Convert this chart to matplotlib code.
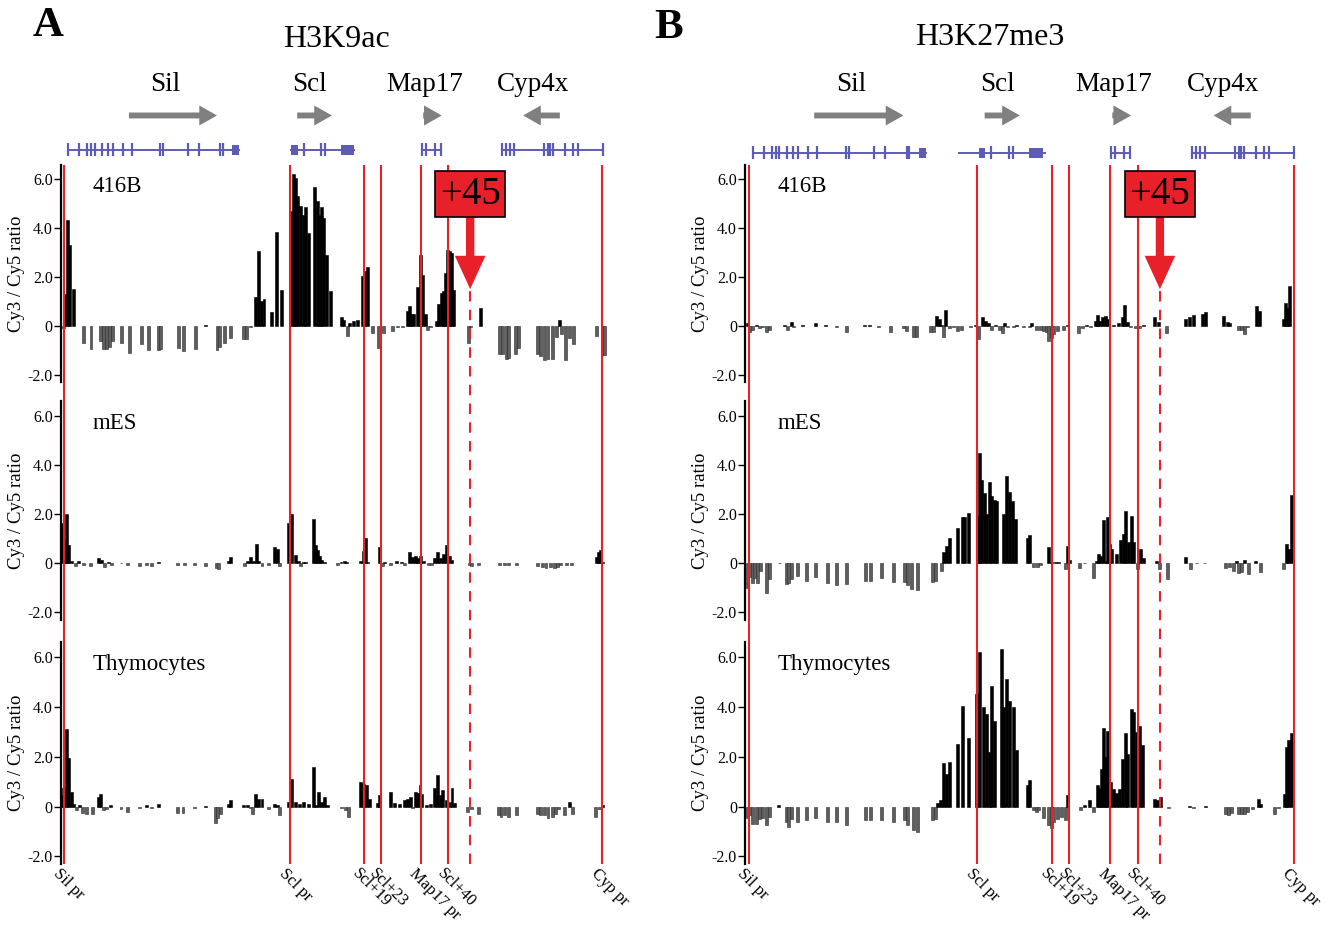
import matplotlib.pyplot as plt

plt.rcParams['font.family'] = ['Liberation Serif', 'DejaVu Serif']

# all positions are in kb relative to the Scl promoter
marker_names = ["Sil pr", "Scl pr", "Scl+19", "Scl+23", "Map17 pr", "Scl+40", "Cyp pr"]
marker_pos = [-57.2, 0.0, 18.6, 23.0, 33.1, 40.1, 79.0]
plus45_pos = 45.6

# gene models (exon ticks, thick exon blocks, gene span)
gene_names = ["Sil", "Scl", "Map17", "Cyp4x"]
gene_label_x = [-31.5, 5.0, 34.0, 61.5]
gene_arrow_from = [-40.8, 1.8, 33.7, 68.3]
gene_arrow_to = [-18.5, 10.6, 38.4, 59.0]
gene_spans = [(-56.2, -12.9), (0.3, 16.3), (33.4, 38.2), (53.7, 79.2)]
gene_exons = [-56.2, -53.4, -51.4, -50.3, -49.5, -47.6, -46.1, -44.9, -42.3, -40.0,
              -32.9, -32.2, -25.8, -23.0, -17.7, -17.0,
              3.5, 7.8, 8.9,
              33.4, 34.4, 36.6, 38.2,
              53.7, 54.7, 55.7, 56.8, 64.3, 65.3, 65.8, 66.5, 69.6, 71.6, 72.9, 79.2]
gene_blocks = [(-14.7, -12.9), (0.3, 2.0), (12.9, 16.3)]
scl_span_b = (-4.5, 16.8)

# Cy3/Cy5 ratios, (kb, value)
a_416b = [(-57.4, -0.1), (-57.0, 1.3), (-56.4, 4.35), (-55.8, 3.3), (-54.9, 1.5), (-52.2, -0.7),
          (-50.4, -0.95), (-48.0, -0.6), (-47.3, -0.95), (-46.5, -0.95), (-45.7, -0.85), (-45.0, -0.6),
          (-42.6, -0.7), (-40.7, -1.1), (-37.7, -0.75), (-35.8, -1.0), (-33.2, -1.0), (-32.7, -0.95),
          (-28.2, -0.9), (-27.0, -1.05), (-24.0, -0.95), (-21.3, 0.05), (-18.5, -1.0), (-17.8, -0.85),
          (-16.7, -0.7), (-15.0, -0.5), (-11.7, -0.55), (-11.0, -0.55), (-10.1, -0.05),
          (-8.7, 1.2), (-8.0, 3.05), (-7.2, 1.0), (-6.6, 1.1), (-4.8, 0.57), (-3.5, 3.85), (-2.1, 1.45),
          (0.2, 4.7), (0.85, 6.2), (1.4, 6.05), (2.0, 5.3), (2.6, 4.9), (3.3, 4.55), (4.0, 4.87),
          (4.6, 3.8), (6.3, 5.7), (7.0, 5.1), (7.4, 4.55), (7.9, 4.85), (8.4, 4.4), (9.3, 2.9),
          (10.3, 1.43), (13.0, 0.35), (13.6, 0.25), (14.5, -0.4), (15.0, 0.1), (16.0, 0.18),
          (17.0, 0.23), (18.3, 2.05), (18.9, 2.25), (19.5, 2.4), (20.8, -0.3), (22.5, -0.9),
          (23.7, -0.3), (26.0, -0.2), (27.3, -0.05), (28.4, -0.05), (29.7, 0.6), (30.2, 0.8),
          (30.7, 0.48), (31.2, 0.5), (32.3, 1.6), (33.0, 2.9), (33.6, 2.1), (34.2, 0.5), (34.8, -0.15),
          (35.6, -0.05), (37.1, 0.2), (37.7, 0.9), (38.3, 1.35), (38.8, 1.43), (39.3, 2.15),
          (39.8, 3.1), (40.3, 3.05), (40.8, 3.0), (41.3, 1.45), (45.2, -0.7), (45.8, -0.05), (48.2, 0.75),
          (53.1, -1.15), (53.9, -1.15), (54.7, -1.35), (55.4, -1.3), (57.1, -1.15), (57.9, -0.9),
          (62.7, -1.15), (63.4, -1.25), (64.3, -1.4), (65.3, -1.35), (66.4, -1.35), (67.5, -0.45),
          (68.1, 0.25), (68.8, -0.35), (69.8, -1.4), (70.7, -0.5), (71.7, -0.75), (77.6, -0.4),
          (79.0, -1.2), (79.5, -1.2)]

a_mes = [(-57.8, 1.65), (-57.2, 0.95), (-56.6, 2.0), (-56.0, 0.75), (-55.3, 0.1), (-54.2, -0.1),
         (-53.6, 0.08), (-52.4, -0.05), (-50.5, -0.1), (-48.4, 0.2), (-47.8, 0.12), (-47.1, -0.15),
         (-46.0, 0.05), (-45.3, -0.05), (-42.8, 0.03), (-41.2, -0.05), (-38.0, -0.1), (-36.4, -0.08),
         (-35.0, -0.1), (-33.2, 0.05), (-28.6, -0.05), (-26.8, -0.05), (-24.1, -0.05), (-21.5, -0.1),
         (-18.6, -0.2), (-18.0, -0.25), (-15.6, 0.1), (-15.1, 0.25), (-11.6, -0.1), (-10.8, 0.08),
         (-10.1, 0.25), (-9.2, 0.1), (-8.5, 0.8), (-7.9, 0.1), (-7.1, -0.1), (-5.5, -0.05),
         (-3.9, 0.65), (-3.3, 0.6), (-2.6, -0.1), (-0.4, 1.65), (0.3, 2.0), (1.4, 0.35), (2.2, 0.1),
         (2.7, -0.1), (3.3, 0.05), (3.8, 0.05), (5.9, 1.8), (6.5, 0.75), (7.0, 0.55), (7.5, 0.3),
         (8.0, 0.15), (8.7, 0.05), (12.1, -0.05), (12.9, 0.05), (13.7, 0.1), (14.4, 0.05),
         (17.9, 0.1), (18.5, 0.5), (19.1, 1.05), (19.7, 0.05), (22.6, 0.65), (23.4, -0.1), (24.0, 0.05),
         (25.4, -0.05), (27.0, 0.1), (28.1, 0.05), (28.9, -0.05), (30.2, 0.45), (31.0, 0.25),
         (31.8, 0.3), (32.3, 0.2), (33.1, 0.3), (33.9, 0.1), (35.0, -0.05), (35.7, -0.05), (36.6, 0.2),
         (37.4, 0.45), (38.2, 0.2), (38.9, 0.4), (39.6, 0.75), (40.3, 0.3), (41.0, 0.15), (45.3, -0.05),
         (46.0, -0.1), (47.8, -0.05), (53.1, -0.05), (54.2, -0.05), (55.2, -0.05), (57.4, -0.05),
         (62.7, -0.1), (63.8, -0.15), (64.8, -0.2), (65.9, -0.15), (66.9, -0.2), (67.7, -0.15),
         (68.5, -0.05), (70.1, -0.05), (71.2, -0.05), (77.6, 0.25), (78.1, 0.45), (78.7, 0.55),
         (79.2, 0.05)]

a_thy = [(-57.8, 0.45), (-57.3, 0.75), (-56.7, 3.1), (-56.2, 1.95), (-55.4, 0.6), (-54.7, 0.1),
         (-54.0, -0.15), (-53.3, 0.08), (-52.5, -0.25), (-51.6, -0.3), (-50.1, -0.3), (-48.4, 0.4),
         (-47.9, 0.5), (-47.3, -0.15), (-46.5, -0.1), (-45.4, 0.05), (-42.8, -0.1), (-41.2, -0.2),
         (-38.0, -0.05), (-36.4, 0.05), (-35.0, -0.05), (-33.2, 0.1), (-28.4, -0.25), (-27.1, -0.25),
         (-24.1, -0.05), (-21.5, 0.03), (-18.8, -0.65), (-18.3, -0.45), (-17.7, -0.3), (-15.6, 0.1),
         (-15.1, 0.25), (-11.9, 0.05), (-10.8, 0.08), (-10.1, -0.05), (-9.4, -0.3), (-8.7, 0.5),
         (-8.0, 0.3), (-7.1, 0.3), (-5.5, -0.1), (-3.9, 0.1), (-3.3, 0.05), (-2.6, -0.35),
         (-0.4, 0.2), (0.4, 1.1), (1.4, 0.2), (2.5, 0.1), (3.3, 0.2), (4.6, 0.1), (5.9, 1.6),
         (6.5, 0.05), (7.3, 0.6), (8.0, 0.2), (8.7, 0.4), (9.4, 0.05), (13.1, -0.05), (14.0, -0.15),
         (14.8, -0.4), (17.9, 1.0), (18.7, 0.9), (19.3, 0.85), (20.2, 0.3), (22.2, 0.15), (22.7, 0.45),
         (25.4, 0.6), (26.5, 0.15), (27.6, 0.1), (28.9, 0.25), (29.7, 0.3), (30.4, 0.4), (31.0, -0.05),
         (31.7, 0.6), (32.3, 0.55), (32.9, 0.85), (33.4, 0.5), (34.5, 0.05), (35.5, 0.1), (36.6, 0.75),
         (37.4, 1.25), (38.0, 0.45), (38.7, 0.65), (39.6, 0.25), (40.3, 0.2), (41.0, 0.75),
         (41.7, 0.15), (44.9, -0.2), (46.0, -0.1), (47.8, -0.3), (52.8, -0.35), (53.4, -0.4),
         (54.2, -0.35), (55.2, -0.4), (57.4, -0.35), (62.7, -0.3), (63.4, -0.35), (64.3, -0.35),
         (65.3, -0.45), (66.4, -0.4), (67.2, -0.3), (68.0, -0.1), (69.6, -0.35), (70.7, 0.2),
         (71.5, -0.3), (77.3, -0.4), (78.4, -0.1), (79.2, 0.05)]

b_416b = [(-57.4, 0.1), (-56.9, -0.25), (-56.2, -0.15), (-55.3, 0.05), (-54.5, -0.1), (-53.8, -0.05),
          (-52.7, -0.25), (-52.0, -0.15), (-48.2, 0.05), (-47.4, -0.15), (-46.4, 0.15), (-45.9, -0.05),
          (-43.8, 0.05), (-40.6, 0.1), (-38.0, 0.05), (-35.3, -0.05), (-32.7, -0.25), (-28.3, 0.05),
          (-26.9, 0.05), (-24.8, -0.05), (-21.7, -0.25), (-18.5, -0.1), (-17.7, -0.2), (-15.9, -0.45),
          (-15.3, -0.45), (-11.7, -0.25), (-11.1, -0.25), (-10.3, 0.4), (-9.5, 0.3), (-9.0, 0.05),
          (-8.5, -0.45), (-8.0, 0.65), (-6.9, -0.1), (-5.9, -0.05), (-5.0, -0.2), (-4.0, -0.15),
          (-1.7, -0.05), (-0.6, 0.05), (0.2, -0.55), (1.3, 0.35), (2.0, 0.2), (2.8, 0.1), (3.6, -0.15),
          (4.5, 0.05), (5.5, -0.15), (6.2, -0.3), (6.8, 0.1), (7.6, -0.05), (8.9, -0.05), (9.7, 0.02),
          (11.5, -0.05), (12.9, -0.05), (13.6, 0.1), (14.7, -0.15), (15.7, -0.15), (16.5, -0.2),
          (17.3, -0.25), (17.8, -0.6), (18.4, -0.5), (18.9, -0.35), (19.9, -0.2), (21.5, -0.15),
          (22.6, 0.05), (25.2, -0.3), (26.2, -0.1), (27.3, 0.05), (28.3, -0.05), (29.4, 0.2),
          (29.9, 0.45), (30.6, 0.2), (31.3, 0.35), (32.0, 0.4), (32.6, 0.3), (34.1, 0.05), (35.2, 0.1),
          (36.2, 0.35), (36.8, 0.85), (37.5, 0.15), (38.3, -0.05), (39.4, -0.1), (40.4, -0.1),
          (41.5, 0.05), (44.2, 0.35), (45.2, 0.15), (47.3, -0.3), (52.0, 0.3), (53.1, 0.35),
          (54.1, 0.45), (56.3, 0.5), (57.1, 0.55), (61.5, 0.4), (62.4, 0.15), (63.1, 0.1),
          (65.2, -0.15), (66.0, -0.15), (66.8, -0.35), (67.6, -0.05), (69.7, 0.8), (70.4, 0.6),
          (76.5, 0.3), (77.0, 0.95), (77.6, 0.75), (78.1, 1.65)]

b_mes = [(-57.4, -1.0), (-56.9, -0.55), (-56.2, -0.8), (-55.6, -0.6), (-54.9, -0.8), (-54.2, -0.3),
         (-52.7, -1.2), (-51.9, -0.65), (-49.5, 0.03), (-47.8, -0.85), (-47.2, -0.8), (-46.4, -0.65),
         (-45.0, -0.5), (-42.7, -0.7), (-40.6, -0.55), (-37.4, -0.8), (-35.3, -0.9), (-32.7, -0.85),
         (-28.0, -0.7), (-26.7, -0.7), (-24.0, -0.6), (-21.1, -0.75), (-18.3, -0.75), (-17.4, -0.9),
         (-16.6, -1.05), (-15.1, -1.1), (-11.3, -0.75), (-10.6, -0.7), (-9.0, -0.3), (-8.5, 0.45),
         (-7.7, 0.7), (-6.9, 1.05), (-5.1, 1.45), (-3.8, 1.9), (-3.2, 1.9), (-2.2, 2.05), (-0.1, 1.95),
         (0.5, 4.5), (1.1, 3.4), (1.7, 2.85), (2.3, 2.0), (3.1, 3.3), (3.6, 2.75), (4.2, 2.6),
         (4.7, 2.55), (6.6, 2.0), (7.3, 3.55), (8.0, 2.9), (8.7, 2.55), (9.4, 1.8), (12.6, 1.05),
         (13.1, 1.15), (14.1, -0.15), (14.9, -0.15), (15.7, -0.05), (17.8, 0.65), (18.4, 0.05),
         (19.4, 0.05), (20.3, 0.05), (22.0, -0.25), (22.6, 0.7), (23.1, 0.15), (25.5, -0.2),
         (26.8, 0.03), (28.9, -0.6), (29.7, 0.1), (30.2, 0.4), (30.8, 0.3), (31.5, 1.75), (32.3, 0.1),
         (32.6, 1.9), (33.1, 0.8), (33.6, 0.6), (34.7, 0.4), (35.7, 0.95), (36.4, 1.2), (37.1, 2.15),
         (37.8, 0.85), (38.4, 1.95), (39.1, 0.85), (39.9, -0.25), (40.7, 0.6), (41.5, 0.2),
         (44.7, 0.1), (45.5, -0.25), (47.6, -0.65), (52.0, 0.25), (53.3, -0.25), (54.7, 0.03),
         (56.8, 0.03), (62.0, -0.2), (63.1, -0.15), (64.1, -0.3), (64.7, 0.1), (65.2, -0.4),
         (66.0, -0.35), (66.8, 0.15), (67.8, -0.45), (69.4, 0.1), (70.7, -0.35), (76.5, -0.25),
         (77.3, 0.8), (77.8, 0.6), (78.4, 2.8)]

b_thy = [(-57.4, -0.45), (-56.9, -0.35), (-56.2, -0.7), (-55.3, -0.7), (-54.5, -0.5), (-53.8, -0.45),
         (-52.7, -0.75), (-52.0, -0.4), (-49.8, 0.08), (-47.8, -0.6), (-47.2, -0.8), (-46.4, -0.5),
         (-45.0, -0.6), (-42.7, -0.55), (-40.6, -0.45), (-37.4, -0.6), (-35.3, -0.6), (-32.7, -0.75),
         (-28.0, -0.55), (-26.7, -0.55), (-24.0, -0.55), (-21.1, -0.6), (-18.3, -0.55), (-17.4, -0.75),
         (-15.9, -0.95), (-15.0, -1.0), (-11.3, -0.55), (-10.6, -0.5), (-9.9, 0.15), (-9.2, 0.25),
         (-8.5, 1.75), (-7.8, 1.3), (-6.9, 1.8), (-5.1, 2.5), (-3.8, 4.05), (-2.3, 2.75), (-0.3, 4.5),
         (0.5, 6.2), (1.5, 4.0), (2.2, 3.7), (2.9, 2.2), (3.6, 4.85), (4.2, 3.45), (5.9, 6.3),
         (6.6, 4.0), (7.3, 5.1), (8.0, 4.25), (8.9, 4.0), (9.7, 2.25), (12.6, 0.85), (13.1, 1.05),
         (13.9, -0.15), (14.7, -0.2), (15.2, -0.15), (16.5, -0.45), (17.8, -0.75), (18.4, -0.85),
         (19.1, -0.6), (19.9, -0.5), (21.0, -0.4), (22.0, -0.55), (22.6, 0.45), (25.7, -0.15),
         (26.8, 0.05), (28.0, 0.25), (29.1, -0.2), (29.9, 0.85), (30.5, 0.75), (31.0, 1.5),
         (31.5, 3.15), (32.0, 2.0), (32.6, 3.05), (33.3, 1.0), (34.0, 0.7), (34.7, 0.55), (35.5, 0.7),
         (36.3, 1.9), (37.0, 2.95), (37.6, 2.1), (38.4, 3.9), (39.1, 3.8), (39.7, 3.0), (40.5, 3.25),
         (41.3, 2.45), (44.2, 0.3), (44.9, 0.25), (45.8, 0.4), (47.8, -0.05), (53.1, 0.03),
         (53.9, -0.05), (57.1, 0.02), (62.0, -0.3), (62.8, -0.35), (63.6, -0.25), (65.2, -0.3),
         (65.9, -0.3), (66.8, -0.3), (67.6, -0.2), (68.8, -0.1), (70.2, 0.3), (70.8, 0.1),
         (74.2, -0.3), (75.2, -0.05), (76.8, 0.5), (77.3, 2.4), (77.8, 2.65), (78.4, 2.95)]

cell_names = ["416B", "mES", "Thymocytes"]
panel_a_tracks = [a_416b, a_mes, a_thy]
panel_b_tracks = [b_416b, b_mes, b_thy]

red = '#e8202a'
gene_blue = '#5c5cb4'
xmin, xmax = -58, 82

fig = plt.figure(figsize=(13.37, 9.25), dpi=100)

track_rows = [(0.587, 0.235), (0.330, 0.236), (0.066, 0.240)]
panels = [
    ("A", "H3K9ac", 0.0456, 0.4136, panel_a_tracks, (0.252, 0.957), (0.036, 0.972), gene_spans[1], 0.164),
    ("B", "H3K27me3", 0.5575, 0.419, panel_b_tracks, (0.740, 0.959), (0.5, 0.970), scl_span_b, 0.136),
]

for letter, title, left, width, tracks, title_xy, letter_xy, scl_span, gene_y in panels:
    fig.text(*letter_xy, letter, fontsize=31, fontweight='bold', ha='center', va='center')
    fig.text(*title_xy, title, fontsize=23, ha='center', va='center')

    # bar charts for the three cell types
    for (bottom, height), pairs, cell in zip(track_rows, tracks, cell_names):
        ax = fig.add_axes([left, bottom, width, height])
        xs = [p[0] for p in pairs]
        ys = [p[1] for p in pairs]
        colors = ['black' if v >= 0 else '#5e5e5e' for v in ys]
        edges = ['black' if v >= 0 else '#2a2a2a' for v in ys]
        ax.bar(xs, ys, width=0.75, color=colors, edgecolor=edges, linewidth=0.4)
        ax.set_xlim(xmin, xmax)
        ax.set_ylim(-2.3, 6.6)
        ax.set_yticks([-2, 0, 2, 4, 6])
        ax.set_yticklabels(['-2.0', '0', '2.0', '4.0', '6.0'], fontsize=11.5)
        ax.set_xticks([])
        for s in ['top', 'right', 'bottom']:
            ax.spines[s].set_visible(False)
        ax.spines['left'].set_linewidth(1.6)
        ax.tick_params(axis='y', length=5, width=1, pad=1)
        ax.set_ylabel("Cy3 / Cy5 ratio", fontsize=13.5, labelpad=2)
        ax.patch.set_alpha(0)
        ax.text(-50, 5.7, cell, fontsize=16.5, ha='left', va='center')

    # red marker lines, +45 box and arrow, bottom labels
    ov = fig.add_axes([left, 0.066, width, 0.756], zorder=5)
    ov.set_xlim(xmin, xmax)
    ov.set_ylim(0, 1)
    ov.axis('off')
    for pos, name in zip(marker_pos, marker_names):
        ov.axvline(pos, color=red, lw=1.5)
        ov.text(pos - 0.8, -0.002, name, fontsize=12, rotation=-45, rotation_mode='anchor',
                ha='left', va='top')
    ov.plot([plus45_pos, plus45_pos], [0, 0.825], color=red, lw=1.5, ls=(0, (5, 4)))
    ov.annotate('', xy=(plus45_pos, 0.822), xytext=(plus45_pos, 0.93),
                arrowprops=dict(arrowstyle='simple,head_length=1.2,head_width=1.1,tail_width=0.3',
                                fc=red, ec='none', mutation_scale=20, shrinkA=0, shrinkB=0))
    ov.text(plus45_pos, 0.958, '+45', fontsize=28, ha='center', va='center',
            bbox=dict(boxstyle='square,pad=0.12', fc=red, ec='black', lw=1.2))

    # gene track
    g = fig.add_axes([left, 0.819, width, 0.117])
    g.set_xlim(xmin, xmax)
    g.set_ylim(0, 1)
    g.axis('off')
    spans = list(gene_spans)
    spans[1] = scl_span
    for x0, x1 in spans:
        g.plot([x0, x1], [gene_y, gene_y], color=gene_blue, lw=1.4)
    g.vlines(gene_exons, gene_y - 0.062, gene_y + 0.062, color=gene_blue, lw=1.6)
    for x0, x1 in gene_blocks:
        g.fill_between([x0, x1], gene_y - 0.045, gene_y + 0.045, color=gene_blue, lw=0)
    for name, lx, a0, a1 in zip(gene_names, gene_label_x, gene_arrow_from, gene_arrow_to):
        g.text(lx, 0.77, name, fontsize=19.5, ha='center', va='center')
        g.annotate('', xy=(a1, 0.48), xytext=(a0, 0.48),
                   arrowprops=dict(arrowstyle='simple,head_length=0.75,head_width=0.85,tail_width=0.25',
                                   fc='#808080', ec='none', mutation_scale=17, shrinkA=0, shrinkB=0))

fig.savefig('out.png', dpi=100)
